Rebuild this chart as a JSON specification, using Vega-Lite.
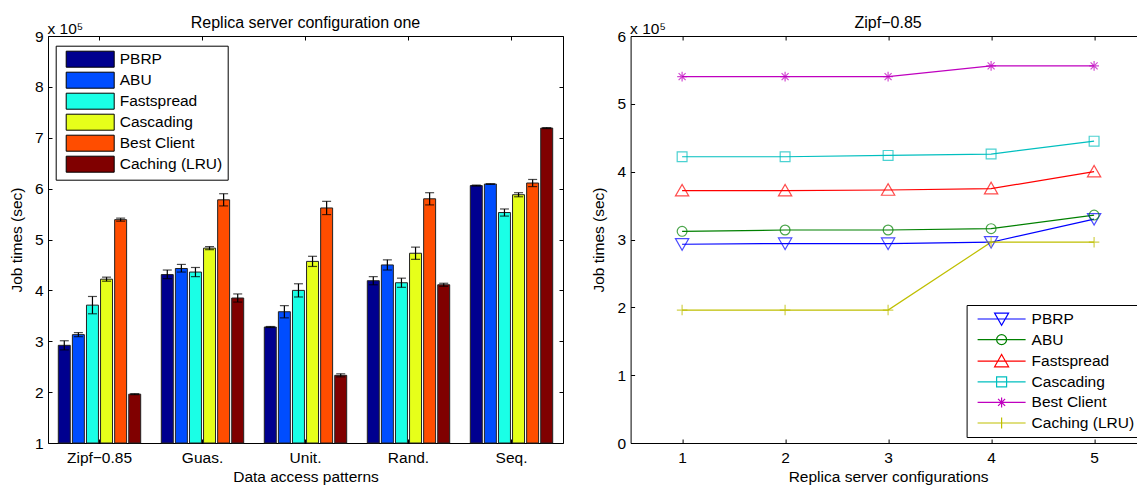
{
  "$schema": "https://vega.github.io/schema/vega-lite/v6.json",
  "background": "white",
  "padding": {"left": 8, "top": 14, "right": 0, "bottom": 0},
  "bounds": "flush",
  "spacing": 67.6,
  "resolve": {
    "scale": {"color": "independent"},
    "legend": {"color": "independent"}
  },
  "datasets": {
    "bars": [
      {"pattern": "Zipf−0.85", "method": "PBRP", "time": 292000, "lo": 283000, "hi": 301000},
      {"pattern": "Zipf−0.85", "method": "ABU", "time": 313000, "lo": 309000, "hi": 317000},
      {"pattern": "Zipf−0.85", "method": "Fastspread", "time": 371000, "lo": 354000, "hi": 388000},
      {"pattern": "Zipf−0.85", "method": "Cascading", "time": 422000, "lo": 418000, "hi": 426000},
      {"pattern": "Zipf−0.85", "method": "Best Client", "time": 539000, "lo": 536000, "hi": 542000},
      {"pattern": "Zipf−0.85", "method": "Caching (LRU)", "time": 196000, "lo": 195000, "hi": 197000},
      {"pattern": "Guas.", "method": "PBRP", "time": 431000, "lo": 423000, "hi": 440000},
      {"pattern": "Guas.", "method": "ABU", "time": 443000, "lo": 436000, "hi": 451000},
      {"pattern": "Guas.", "method": "Fastspread", "time": 436000, "lo": 427000, "hi": 445000},
      {"pattern": "Guas.", "method": "Cascading", "time": 483000, "lo": 480000, "hi": 486000},
      {"pattern": "Guas.", "method": "Best Client", "time": 578000, "lo": 566000, "hi": 590000},
      {"pattern": "Guas.", "method": "Caching (LRU)", "time": 385000, "lo": 377000, "hi": 393000},
      {"pattern": "Unit.", "method": "PBRP", "time": 328000, "lo": 327000, "hi": 329000},
      {"pattern": "Unit.", "method": "ABU", "time": 358000, "lo": 346000, "hi": 370000},
      {"pattern": "Unit.", "method": "Fastspread", "time": 400000, "lo": 387000, "hi": 413000},
      {"pattern": "Unit.", "method": "Cascading", "time": 457000, "lo": 447000, "hi": 467000},
      {"pattern": "Unit.", "method": "Best Client", "time": 562000, "lo": 549000, "hi": 575000},
      {"pattern": "Unit.", "method": "Caching (LRU)", "time": 233000, "lo": 230000, "hi": 236000},
      {"pattern": "Rand.", "method": "PBRP", "time": 419000, "lo": 411000, "hi": 427000},
      {"pattern": "Rand.", "method": "ABU", "time": 450000, "lo": 440000, "hi": 460000},
      {"pattern": "Rand.", "method": "Fastspread", "time": 415000, "lo": 406000, "hi": 424000},
      {"pattern": "Rand.", "method": "Cascading", "time": 473000, "lo": 461000, "hi": 485000},
      {"pattern": "Rand.", "method": "Best Client", "time": 580000, "lo": 568000, "hi": 592000},
      {"pattern": "Rand.", "method": "Caching (LRU)", "time": 411000, "lo": 408000, "hi": 414000},
      {"pattern": "Seq.", "method": "PBRP", "time": 606000, "lo": 605000, "hi": 607000},
      {"pattern": "Seq.", "method": "ABU", "time": 609000, "lo": 608500, "hi": 609500},
      {"pattern": "Seq.", "method": "Fastspread", "time": 553000, "lo": 546000, "hi": 560000},
      {"pattern": "Seq.", "method": "Cascading", "time": 588000, "lo": 584000, "hi": 592000},
      {"pattern": "Seq.", "method": "Best Client", "time": 611000, "lo": 604000, "hi": 618000},
      {"pattern": "Seq.", "method": "Caching (LRU)", "time": 719000, "lo": 718000, "hi": 720000}
    ],
    "lines": [
      {"config": 1, "method": "PBRP", "time": 293000},
      {"config": 2, "method": "PBRP", "time": 294000},
      {"config": 3, "method": "PBRP", "time": 294000},
      {"config": 4, "method": "PBRP", "time": 296000},
      {"config": 5, "method": "PBRP", "time": 330000},
      {"config": 1, "method": "ABU", "time": 312000},
      {"config": 2, "method": "ABU", "time": 314000},
      {"config": 3, "method": "ABU", "time": 314000},
      {"config": 4, "method": "ABU", "time": 316000},
      {"config": 5, "method": "ABU", "time": 336000},
      {"config": 1, "method": "Fastspread", "time": 372000},
      {"config": 2, "method": "Fastspread", "time": 372000},
      {"config": 3, "method": "Fastspread", "time": 373000},
      {"config": 4, "method": "Fastspread", "time": 375000},
      {"config": 5, "method": "Fastspread", "time": 400000},
      {"config": 1, "method": "Cascading", "time": 422000},
      {"config": 2, "method": "Cascading", "time": 422000},
      {"config": 3, "method": "Cascading", "time": 424000},
      {"config": 4, "method": "Cascading", "time": 426000},
      {"config": 5, "method": "Cascading", "time": 445000},
      {"config": 1, "method": "Best Client", "time": 540000},
      {"config": 2, "method": "Best Client", "time": 540000},
      {"config": 3, "method": "Best Client", "time": 540000},
      {"config": 4, "method": "Best Client", "time": 556000},
      {"config": 5, "method": "Best Client", "time": 556000},
      {"config": 1, "method": "Caching (LRU)", "time": 196000},
      {"config": 2, "method": "Caching (LRU)", "time": 196000},
      {"config": 3, "method": "Caching (LRU)", "time": 196000},
      {"config": 4, "method": "Caching (LRU)", "time": 296000},
      {"config": 5, "method": "Caching (LRU)", "time": 296000}
    ]
  },
  "hconcat": [
    {
      "width": 515,
      "height": 407,
      "data": {"name": "bars"},
      "title": {"text": "Replica server configuration one", "offset": -10},
      "layer": [
        {
          "mark": {"type": "bar", "stroke": "#222222", "strokeWidth": 1},
          "encoding": {
            "x": {"field": "pattern", "type": "nominal", "sort": ["Zipf−0.85", "Guas.", "Unit.", "Rand.", "Seq."],
              "scale": {"paddingInner": 0.2, "paddingOuter": 0.1},
              "axis": {"orient": "bottom", "title": "Data access patterns", "labelAngle": 0, "tickSize": -4, "labelPadding": 11, "titlePadding": 4}},
            "xOffset": {"field": "method", "type": "nominal", "sort": ["PBRP", "ABU", "Fastspread", "Cascading", "Best Client", "Caching (LRU)"],
              "scale": {"paddingInner": 0.15, "paddingOuter": 0}},
            "y": {"field": "time", "type": "quantitative",
              "scale": {"domain": [100000, 900000], "zero": false, "nice": false},
              "axis": {"orient": "left", "title": "Job times (sec)", "values": [100000, 200000, 300000, 400000, 500000, 600000, 700000, 800000, 900000],
                "labelExpr": "format(datum.value / 100000, 'd')", "tickSize": -4, "labelPadding": 9, "titlePadding": 10}},
            "y2": {"datum": 100000},
            "color": {"field": "method", "type": "nominal",
              "scale": {"domain": ["PBRP", "ABU", "Fastspread", "Cascading", "Best Client", "Caching (LRU)"],
                "range": ["#00008f", "#004dff", "#1affe6", "#e6ff1a", "#ff4d00", "#800000"]},
              "legend": {"orient": "none", "legendX": 7.7, "legendY": 9.7, "title": null,
                "symbolType": "M-0.375,-1H5.625V1H-0.375Z", "symbolSize": 256,
                "symbolStrokeColor": "black", "symbolStrokeWidth": 1, "symbolOpacity": 1,
                "labelFontSize": 15.5, "labelOffset": 42, "rowPadding": 0, "padding": 5,
                "strokeColor": "black", "fillColor": "white", "labelColor": "black"}}
          }
        },
        {
          "mark": {"type": "rule", "color": "black", "strokeWidth": 1.2},
          "encoding": {
            "x": {"field": "pattern", "type": "nominal", "sort": ["Zipf−0.85", "Guas.", "Unit.", "Rand.", "Seq."],
              "axis": {"orient": "top", "labels": false, "tickSize": -4, "title": "x 10⁵", "titleAngle": 0,
                "titleAnchor": "start", "titleAlign": "left", "titleBaseline": "alphabetic", "titleX": -1, "titleY": -3, "titleFontWeight": "normal"}},
            "xOffset": {"field": "method", "type": "nominal", "sort": ["PBRP", "ABU", "Fastspread", "Cascading", "Best Client", "Caching (LRU)"]},
            "y": {"field": "lo", "type": "quantitative",
              "axis": {"orient": "right", "labels": false, "title": null, "tickSize": -4,
                "values": [100000, 200000, 300000, 400000, 500000, 600000, 700000, 800000, 900000]}},
            "y2": {"field": "hi"}
          }
        },
        {
          "mark": {"type": "tick", "color": "black", "thickness": 1.2, "size": 9},
          "encoding": {
            "x": {"field": "pattern", "type": "nominal", "sort": ["Zipf−0.85", "Guas.", "Unit.", "Rand.", "Seq."], "axis": null},
            "xOffset": {"field": "method", "type": "nominal", "sort": ["PBRP", "ABU", "Fastspread", "Cascading", "Best Client", "Caching (LRU)"]},
            "y": {"field": "lo", "type": "quantitative", "axis": null}
          }
        },
        {
          "mark": {"type": "tick", "color": "black", "thickness": 1.2, "size": 9},
          "encoding": {
            "x": {"field": "pattern", "type": "nominal", "sort": ["Zipf−0.85", "Guas.", "Unit.", "Rand.", "Seq."], "axis": null},
            "xOffset": {"field": "method", "type": "nominal", "sort": ["PBRP", "ABU", "Fastspread", "Cascading", "Best Client", "Caching (LRU)"]},
            "y": {"field": "hi", "type": "quantitative", "axis": null}
          }
        }
      ],
      "resolve": {"axis": {"x": "independent", "y": "independent"}}
    },
    {
      "width": 515,
      "height": 407,
      "data": {"name": "lines"},
      "title": {"text": "Zipf−0.85", "offset": -10},
      "encoding": {
        "x": {"field": "config", "type": "quantitative", "scale": {"domain": [0.5, 5.5], "nice": false, "zero": false}},
        "y": {"field": "time", "type": "quantitative", "scale": {"domain": [0, 600000], "nice": false}},
        "color": {"field": "method", "type": "nominal",
          "scale": {"domain": ["PBRP", "ABU", "Fastspread", "Cascading", "Best Client", "Caching (LRU)"],
            "range": ["#0000ff", "#008000", "#ff0000", "#00bfbf", "#bf00bf", "#bfbf00"]},
          "legend": null}
      },
      "layer": [
        {
          "mark": {"type": "line", "strokeWidth": 1.2},
          "encoding": {
            "x": {"field": "config", "type": "quantitative",
              "axis": {"orient": "bottom", "title": "Replica server configurations", "values": [1, 2, 3, 4, 5], "format": "d", "tickSize": -4, "labelPadding": 11, "titlePadding": 4}},
            "y": {"field": "time", "type": "quantitative",
              "axis": {"orient": "left", "title": "Job times (sec)", "values": [0, 100000, 200000, 300000, 400000, 500000, 600000],
                "labelExpr": "format(datum.value / 100000, 'd')", "tickSize": -4, "labelPadding": 9, "titlePadding": 10}}
          }
        },
        {
          "transform": [{"filter": {"field": "method", "equal": "PBRP"}}],
          "mark": {"type": "point", "filled": false, "strokeWidth": 1.2, "size": 196, "shape": "M-0.95,-0.8L0.95,-0.8L0,0.85Z"},
          "encoding": {
            "x": {"field": "config", "type": "quantitative",
              "axis": {"orient": "top", "labels": false, "tickSize": -4, "values": [1, 2, 3, 4, 5], "title": "x 10⁵", "titleAngle": 0,
                "titleAnchor": "start", "titleAlign": "left", "titleBaseline": "alphabetic", "titleX": -1, "titleY": -3, "titleFontWeight": "normal"}},
            "y": {"field": "time", "type": "quantitative",
              "axis": {"orient": "right", "labels": false, "title": null, "tickSize": -4, "values": [0, 100000, 200000, 300000, 400000, 500000, 600000]}}
          }
        },
        {
          "transform": [{"filter": {"field": "method", "equal": "ABU"}}],
          "mark": {"type": "point", "filled": false, "strokeWidth": 1.2, "size": 196, "shape": "M0.7,0A0.7,0.7 0 1,1 -0.7,0A0.7,0.7 0 1,1 0.7,0Z"},
          "encoding": {
            "x": {"field": "config", "type": "quantitative", "axis": null},
            "y": {"field": "time", "type": "quantitative", "axis": null}
          }
        },
        {
          "transform": [{"filter": {"field": "method", "equal": "Fastspread"}}],
          "mark": {"type": "point", "filled": false, "strokeWidth": 1.2, "size": 196, "shape": "M-0.95,0.75L0.95,0.75L0,-0.9Z"},
          "encoding": {
            "x": {"field": "config", "type": "quantitative", "axis": null},
            "y": {"field": "time", "type": "quantitative", "axis": null}
          }
        },
        {
          "transform": [{"filter": {"field": "method", "equal": "Cascading"}}],
          "mark": {"type": "point", "filled": false, "strokeWidth": 1.2, "size": 196, "shape": "M-0.7,-0.7H0.7V0.7H-0.7Z"},
          "encoding": {
            "x": {"field": "config", "type": "quantitative", "axis": null},
            "y": {"field": "time", "type": "quantitative", "axis": null}
          }
        },
        {
          "transform": [{"filter": {"field": "method", "equal": "Best Client"}}],
          "mark": {"type": "point", "filled": false, "strokeWidth": 1.2, "size": 196, "shape": "M-0.7,0H0.7M0,-0.7V0.7M-0.5,-0.5L0.5,0.5M-0.5,0.5L0.5,-0.5"},
          "encoding": {
            "x": {"field": "config", "type": "quantitative", "axis": null},
            "y": {"field": "time", "type": "quantitative", "axis": null}
          }
        },
        {
          "transform": [{"filter": {"field": "method", "equal": "Caching (LRU)"}}],
          "mark": {"type": "point", "filled": false, "strokeWidth": 1.2, "size": 196, "shape": "M-0.75,0H0.75M0,-0.75V0.75"},
          "encoding": {
            "x": {"field": "config", "type": "quantitative", "axis": null},
            "y": {"field": "time", "type": "quantitative", "axis": null}
          }
        },
        {
          "mark": {"type": "point", "filled": false, "strokeWidth": 1.2, "size": 256, "opacity": 0},
          "encoding": {
            "x": {"field": "config", "type": "quantitative", "axis": null},
            "y": {"field": "time", "type": "quantitative", "axis": null},
            "color": {"value": "black"},
            "stroke": {"field": "method", "type": "nominal",
              "scale": {"domain": ["PBRP", "ABU", "Fastspread", "Cascading", "Best Client", "Caching (LRU)"],
                "range": ["#0000ff", "#008000", "#ff0000", "#00bfbf", "#bf00bf", "#bfbf00"]},
              "legend": {"orient": "none", "legendX": 918.6, "legendY": 269, "title": null,
                "symbolSize": 256, "symbolStrokeWidth": 1.2, "symbolOpacity": 1, "symbolFillColor": "transparent",
                "labelFontSize": 15.5, "labelOffset": 42, "rowPadding": 2.6, "padding": 5,
                "strokeColor": "black", "fillColor": "white", "labelColor": "black"}},
            "shape": {"field": "method", "type": "nominal",
              "scale": {"domain": ["PBRP", "ABU", "Fastspread", "Cascading", "Best Client", "Caching (LRU)"],
                "range": [
                  "M-0.375,0H5.625M1.75,-0.73L3.5,-0.73L2.625,0.8Z",
                  "M-0.375,0H5.625M3.25,0A0.625,0.625 0 1,1 2,0A0.625,0.625 0 1,1 3.25,0Z",
                  "M-0.375,0H5.625M1.75,0.7L3.5,0.7L2.625,-0.83Z",
                  "M-0.375,0H5.625M2,-0.625H3.25V0.625H2Z",
                  "M-0.375,0H5.625M2,0H3.25M2.625,-0.625V0.625M2.183,-0.442L3.067,0.442M2.183,0.442L3.067,-0.442",
                  "M-0.375,0H5.625M1.925,0H3.325M2.625,-0.7V0.7"
                ]},
              "legend": {"orient": "none", "legendX": 918.6, "legendY": 269, "title": null,
                "symbolSize": 256, "symbolStrokeWidth": 1.2, "symbolOpacity": 1, "symbolFillColor": "transparent",
                "labelFontSize": 15.5, "labelOffset": 42, "rowPadding": 2.6, "padding": 5,
                "strokeColor": "black", "fillColor": "white", "labelColor": "black"}}
          }
        }
      ],
      "resolve": {"axis": {"x": "independent", "y": "independent"}}
    }
  ],
  "config": {
    "font": "Liberation Sans",
    "view": {"stroke": "black", "strokeWidth": 1},
    "axis": {"domain": false, "grid": false, "labelFontSize": 15.5, "titleFontSize": 15.5, "labelColor": "black",
      "titleColor": "black", "tickColor": "black", "titleFontWeight": "normal", "labelFont": "Liberation Sans", "titleFont": "Liberation Sans"},
    "title": {"fontSize": 16, "fontWeight": "normal", "color": "black", "font": "Liberation Sans"},
    "legend": {"labelFont": "Liberation Sans"}
  }
}
